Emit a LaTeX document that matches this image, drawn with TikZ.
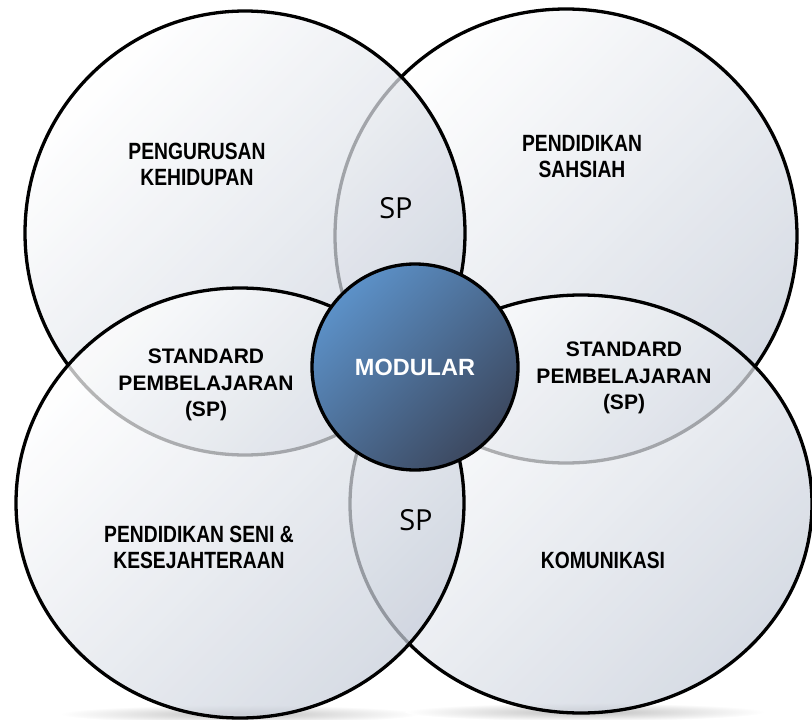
\documentclass[tikz,border=0pt]{standalone}
\usepackage{fontspec}
\setmainfont{Liberation Sans}
\newfontfamily\narrowfont[FakeStretch=0.82]{Liberation Sans}
\newfontfamily\spfont{Open Sans}
\definecolor{vennfill}{RGB}{199,206,218}
\definecolor{hubtop}{RGB}{92,145,200}
\definecolor{hubbottom}{RGB}{60,72,95}

\begin{document}
\begin{tikzpicture}[x=1pt,y=-1pt,
  set/.style={draw=black, line width=3.3pt, top color=white, bottom color=vennfill, shading angle=45, fill opacity=0.72},
  area/.style={font=\narrowfont\bfseries\fontsize{23.5}{26}\selectfont, align=center},
  lens/.style={font=\bfseries\fontsize{21}{26.5}\selectfont, align=center},
  sp/.style={font=\spfont\fontsize{29}{30}\selectfont},
  hub/.style={circle, draw=black, line width=3.3pt, minimum size=206pt, top color=hubtop, bottom color=hubbottom, shading angle=45, text=white, font=\bfseries\fontsize{23.5}{26}\selectfont}]
\useasboundingbox (0,0) rectangle (812,720);
\shade[inner color=black!25, outer color=white] (240,714) ellipse [x radius=180, y radius=9];
\shade[inner color=black!25, outer color=white] (585,712) ellipse [x radius=180, y radius=9];
\path[set] (566,236) ellipse [x radius=231, y radius=227];
\path[set] (245,233) ellipse [x radius=220, y radius=222];
\path[set] (581,504) ellipse [x radius=231, y radius=209];
\path[set] (240,503) ellipse [x radius=224, y radius=215];
\node[hub] (modular) at (415,367) {MODULAR};
\node[area] (kehidupan) at (197,164) {PENGURUSAN\\KEHIDUPAN};
\node[area] (sahsiah) at (582,157) {PENDIDIKAN\\SAHSIAH};
\node[area] (seni) at (199,547) {PENDIDIKAN SENI \&\\KESEJAHTERAAN};
\node[area] (komunikasi) at (603,560) {KOMUNIKASI};
\node[lens] (spkiri) at (206,385) {STANDARD\\PEMBELAJARAN\\(SP)};
\node[lens] (spkanan) at (624,378) {STANDARD\\PEMBELAJARAN\\(SP)};
\node[sp] (spatas) at (396,208) {SP};
\node[sp] (spbawah) at (416,520) {SP};
\end{tikzpicture}
\end{document}
